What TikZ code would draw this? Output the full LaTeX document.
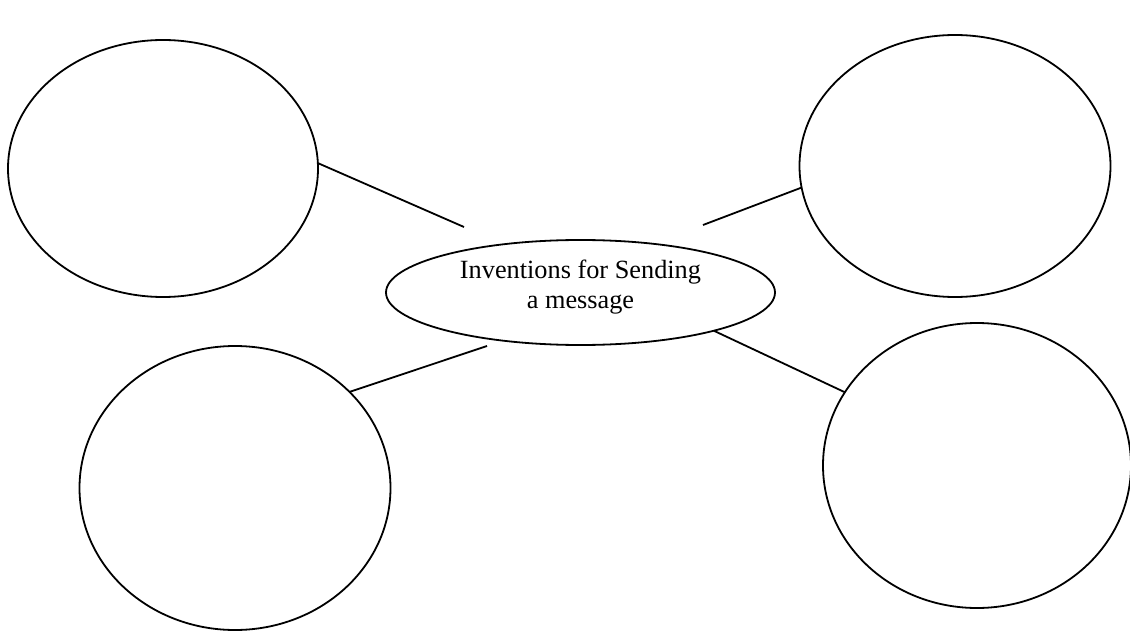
\documentclass[tikz,border=0pt]{standalone}
\usepackage{fontspec}
\setmainfont{Liberation Serif}
\usetikzlibrary{shapes.geometric}
\begin{document}
\begin{tikzpicture}[x=1pt,y=-1pt,
  bubble/.style={draw, ellipse, line width=1.8pt, inner sep=0pt, outer sep=0pt},
  link/.style={line width=1.8pt}]
\useasboundingbox (0,0) rectangle (1130,631);
\node[bubble, minimum width=310pt, minimum height=257pt] (tl) at (163,168.5) {};
\node[bubble, minimum width=311pt, minimum height=262pt] (tr) at (955,166) {};
\node[bubble, minimum width=311pt, minimum height=284pt] (bl) at (235,488) {};
\node[bubble, minimum width=308pt, minimum height=285pt] (br) at (977,465.5) {};
\node[bubble, minimum width=389pt, minimum height=105pt,
  label={[font=\fontsize{26.3}{30}\selectfont, align=center, yshift=5pt]center:Inventions for Sending\\a message}] (c) at (580.5,292.5) {};
\coordinate (tlend) at (464,227);
\coordinate (trend) at (703,225);
\coordinate (blend) at (487,346);
\draw[link] (tl.2) -- (tlend);
\draw[link] (tr.188) -- (trend);
\draw[link] (bl.40.4) -- (blend);
\draw[link] (br.151.1) -- (c.344);
\end{tikzpicture}
\end{document}
